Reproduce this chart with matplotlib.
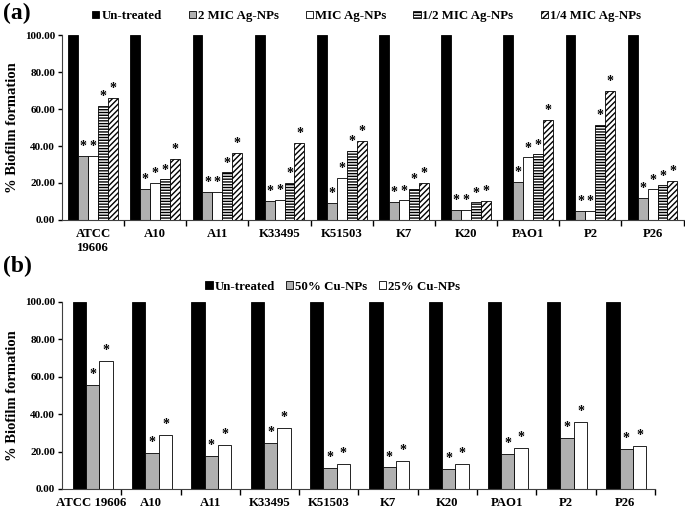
import matplotlib
matplotlib.use("Agg")
import matplotlib.pyplot as plt
import numpy as np

plt.rcParams['font.family'] = ['Liberation Serif', 'DejaVu Serif']
plt.rcParams['font.weight'] = 'bold'
plt.rcParams['hatch.linewidth'] = 1.0

# panel (a) data
strains_a = ['ATCC\n19606', 'A10', 'A11', 'K33495', 'K51503', 'K7', 'K20', 'PAO1', 'P2', 'P26']
untreated_a = [100, 100, 100, 100, 100, 100, 100, 100, 100, 100]
mic2 = [34.8, 16.9, 15.1, 10.2, 9.3, 9.9, 5.4, 20.6, 4.8, 12.0]
mic1 = [34.8, 20.1, 15.3, 11.0, 22.8, 10.6, 5.4, 33.9, 5.0, 16.5]
mic_half = [61.6, 21.9, 25.7, 19.9, 37.5, 16.7, 9.5, 35.5, 51.5, 18.7]
mic_quarter = [66.0, 32.9, 36.1, 41.7, 42.9, 20.1, 10.2, 54.0, 69.8, 21.2]
labels_a = ['Un-treated', '2 MIC Ag-NPs', 'MIC Ag-NPs', '1/2 MIC Ag-NPs', '1/4 MIC Ag-NPs']

# panel (b) data
strains_b = ['ATCC 19606', 'A10', 'A11', 'K33495', 'K51503', 'K7', 'K20', 'PAO1', 'P2', 'P26']
untreated_b = [100, 100, 100, 100, 100, 100, 100, 100, 100, 100]
cu50 = [55.7, 19.3, 17.9, 24.5, 11.1, 11.6, 10.7, 18.75, 27.3, 21.6]
cu25 = [68.4, 28.9, 23.6, 32.7, 13.4, 15.0, 13.4, 22.1, 35.9, 23.0]
labels_b = ['Un-treated', '50% Cu-NPs', '25% Cu-NPs']

fig = plt.figure(figsize=(6.85, 5.09), dpi=100)
ax1 = fig.add_axes([0.0905, 0.5678, 0.9075, 0.3634])
ax2 = fig.add_axes([0.0905, 0.0393, 0.8655, 0.3674])

leg_font = {'size': 9.3, 'weight': 'bold'}


def style_axis(ax, names):
    n = len(names)
    ax.set_xlim(-0.5, n - 0.5)
    ax.set_ylim(0, 100)
    ax.set_yticks(np.arange(0, 101, 20))
    ax.set_yticklabels(['%.2f' % v for v in np.arange(0, 101, 20)], fontsize=8)
    ax.set_xticks(np.arange(n))
    ax.set_xticklabels(names, fontsize=9.2)
    ax.set_xticks(np.arange(n) + 0.5, minor=True)
    ax.tick_params(axis='x', which='major', length=0, pad=6)
    ax.tick_params(axis='x', which='minor', length=4, width=1)
    ax.tick_params(axis='y', length=3, width=1, pad=2)
    for s in ['top', 'right']:
        ax.spines[s].set_visible(False)
    ax.spines['left'].set_color('#404040')
    ax.spines['bottom'].set_color('#404040')
    ax.set_ylabel('% Biofilm formation', fontsize=10.5, fontweight='bold')


# panel (a)
series_a = [untreated_a, mic2, mic1, mic_half, mic_quarter]
colors_a = ['black', '#b0b0b0', 'white', 'white', 'white']
hatches_a = [None, None, None, '------', '//////']
w = 0.16
x = np.arange(len(strains_a))
for i, (vals, c, h, lab) in enumerate(zip(series_a, colors_a, hatches_a, labels_a)):
    pos = x - 2 * w + i * w
    ax1.bar(pos, vals, w, color=c, edgecolor='black', linewidth=0.6, hatch=h, label=lab)
    if i > 0:
        for p, v in zip(pos, vals):
            ax1.text(p, v + 1.5, '*', ha='center', va='bottom', fontsize=10, fontweight='bold')
style_axis(ax1, strains_a)
ax1.legend(loc='lower center', bbox_to_anchor=(0.49, 1.0), ncol=5, frameon=False,
           prop=leg_font, handlelength=0.55, handleheight=0.55,
           handletextpad=0.15, columnspacing=2.1, borderaxespad=0.6)

# panel (b)
series_b = [untreated_b, cu50, cu25]
colors_b = ['black', '#b0b0b0', 'white']
w = 0.225
x = np.arange(len(strains_b))
for i, (vals, c, lab) in enumerate(zip(series_b, colors_b, labels_b)):
    pos = x - w + i * w + 0.02
    ax2.bar(pos, vals, w, color=c, edgecolor='black', linewidth=0.6, label=lab)
    if i > 0:
        for p, v in zip(pos, vals):
            ax2.text(p, v + 2, '*', ha='center', va='bottom', fontsize=10, fontweight='bold')
style_axis(ax2, strains_b)
ax2.legend(loc='lower center', bbox_to_anchor=(0.457, 1.0), ncol=3, frameon=False,
           prop=leg_font, handlelength=0.55, handleheight=0.55,
           handletextpad=0.15, columnspacing=0.9, borderaxespad=0.3)

fig.text(0.005, 0.995, '(a)', fontsize=17, fontweight='bold', va='top', ha='left')
fig.text(0.005, 0.497, '(b)', fontsize=17, fontweight='bold', va='top', ha='left')

fig.savefig('out.png', dpi=100)
